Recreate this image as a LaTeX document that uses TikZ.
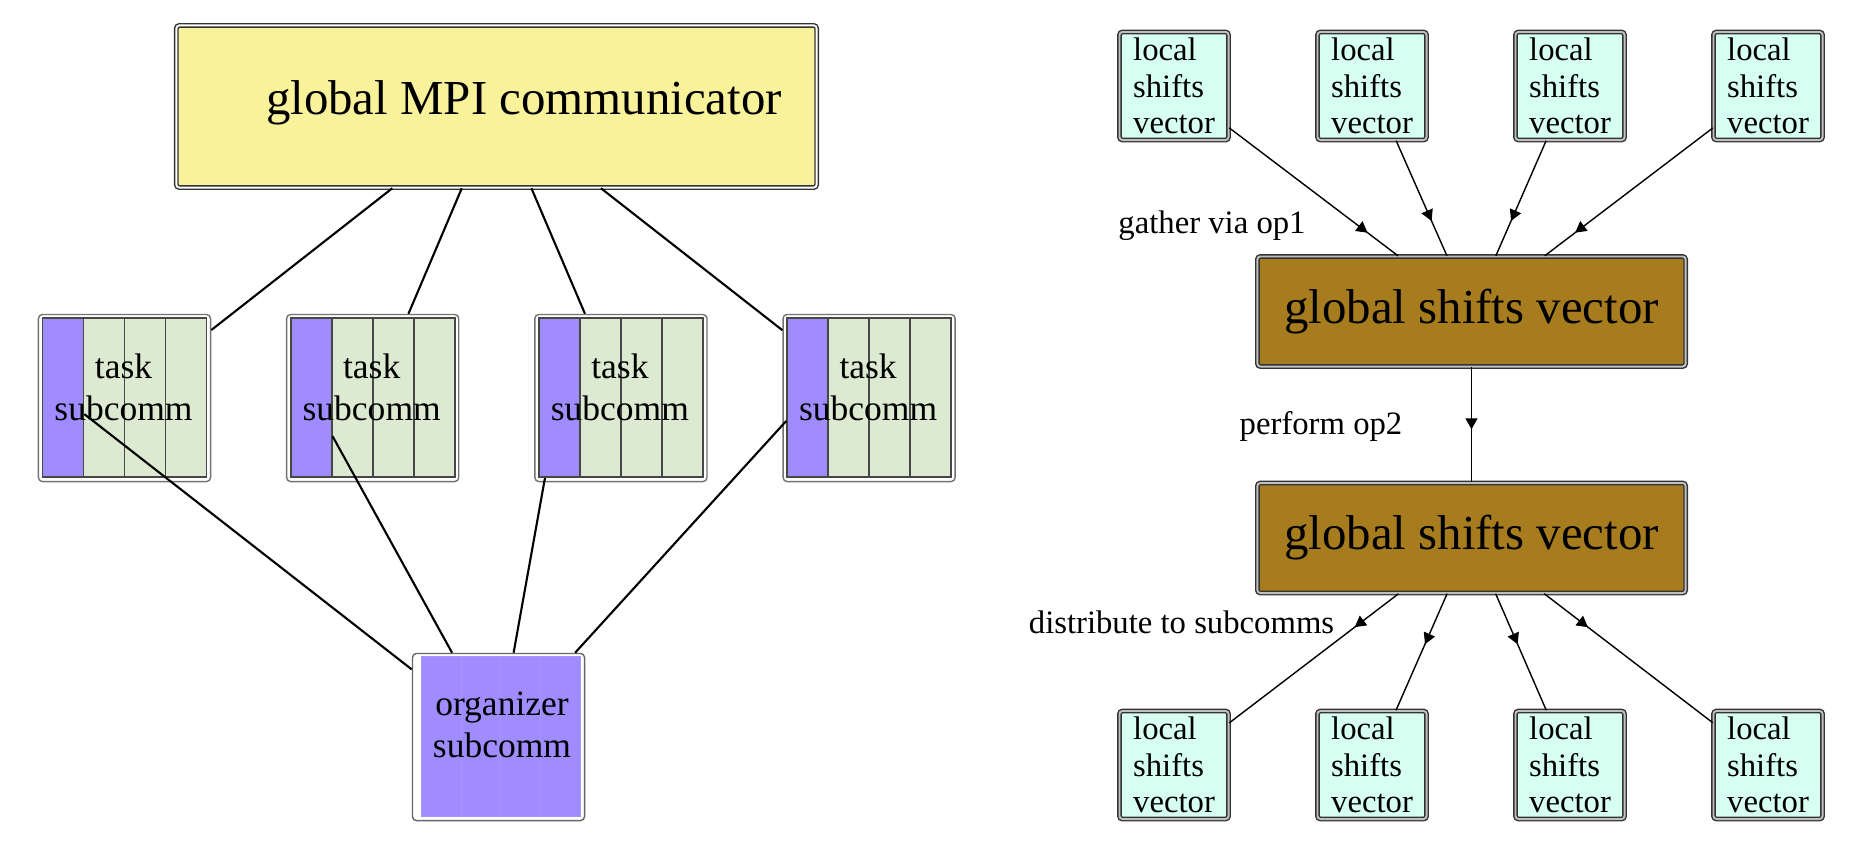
\documentclass[tikz,border=0pt]{standalone}
\usepackage{fontspec}
\setmainfont{Liberation Serif}
\usetikzlibrary{arrows.meta}
\usetikzlibrary{decorations.markings}

\definecolor{mpiyellow}{HTML}{F8F29A}
\definecolor{subpurple}{HTML}{A08BFF}
\definecolor{subgreen}{HTML}{DBEAD0}
\definecolor{shiftbrown}{HTML}{A67C1E}
\definecolor{localcyan}{HTML}{D6FFF2}

\tikzset{
  dbox/.style={draw=black!80, double=black!25, line width=0.4pt, double distance=0.55pt,
    rounded corners=0.03cm, inner sep=0pt},
  globbox/.style={dbox, double=white, fill=mpiyellow, minimum width=6.40cm, minimum height=1.62cm},
  shiftbox/.style={dbox, fill=shiftbrown, minimum width=4.28cm, minimum height=1.10cm,
    font=\fontsize{13.9}{15}\selectfont},
  localbox/.style={dbox, fill=localcyan, minimum width=1.09cm, minimum height=1.08cm,
    align=left, font=\fontsize{9.3}{10.4}\selectfont},
  taskbox/.style={draw=black!55, line width=0.4pt, fill=white, rounded corners=0.04cm,
    minimum width=1.72cm, minimum height=1.67cm, inner sep=0pt},
  cell/.style={draw=black!72, line width=0.5pt, minimum width=0.41cm, minimum height=1.59cm,
    inner sep=0pt},
  orgcell/.style={fill=subpurple, draw=subpurple!92!white, line width=0.3pt,
    minimum width=0.395cm, minimum height=1.59cm, inner sep=0pt},
  midtext/.style={font=\fontsize{10.1}{11.95}\selectfont, align=center, inner sep=0pt},
  bigtext/.style={font=\fontsize{13.9}{15}\selectfont, inner sep=0pt},
  steplabel/.style={font=\fontsize{9.3}{10.4}\selectfont, inner sep=0pt},
  comline/.style={line width=0.6pt},
  flow/.style={line width=0.4pt},
  midarrow/.style={postaction={decorate,decoration={markings,
    mark=at position #1 with {\arrow{Triangle[length=0.11cm,width=0.12cm]}}}}}
}

\begin{document}
\begin{tikzpicture}[x=0.01cm,y=-0.01cm]
\useasboundingbox (0,0) rectangle (1867,845);

% left: communicators
\node[globbox] (glob) at (496.5,106.5) {};
\node[bigtext] (globtxt) at (524,103) {global MPI communicator};

\foreach \n/\x in {1/124.5,2/372.7,3/620.9,4/869.1} {
  \node[taskbox] (t\n) at (\x,398) {};
  \node[cell, fill=subpurple] (p\n) at (\x-61.5,397.5) {};
  \node[cell, fill=subgreen] (g\n-1) at (\x-20.5,397.5) {};
  \node[cell, fill=subgreen] (g\n-2) at (\x+20.5,397.5) {};
  \node[cell, fill=subgreen] (g\n-3) at (\x+61.5,397.5) {};
  \node[midtext] (tt\n) at (\x-1,387) {task\\subcomm};
}

\node[taskbox, draw=black!60] (org) at (498.5,737) {};
\foreach \i/\dx in {1/-57,2/-17.5,3/22,4/62}
  \node[orgcell] (oc\i) at (498.5+\dx,736.5) {};
\node[midtext] (orgtxt) at (502,725) {organizer\\subcomm};

\foreach \n in {1,...,4} {
  \draw[comline] (glob) -- (t\n);
  \draw[comline] (p\n) -- (org);
}

% right: shifts vectors
\foreach \k/\x in {1/1174,2/1372,3/1570,4/1768} {
  \node[localbox] (up\k) at (\x,86) {local\\shifts\\vector};
  \node[localbox] (dn\k) at (\x,765) {local\\shifts\\vector};
}
\node[shiftbox] (gsv1) at (1471.5,311.5) {global shifts vector};
\node[shiftbox] (gsv2) at (1471.5,538) {global shifts vector};

\foreach \k in {1,...,4} {
  \draw[flow, midarrow=-0.38cm] (up\k) -- (gsv1);
  \draw[flow, midarrow=0.55cm] (gsv2) -- (dn\k);
}
\draw[flow, midarrow=0.62cm] (gsv1) -- (gsv2);

\node[steplabel] (gather) at (1212,226) {gather via op1};
\node[steplabel] (perform) at (1321,426) {perform op2};
\node[steplabel] (distribute) at (1181.5,622) {distribute to subcomms};
\end{tikzpicture}
\end{document}
